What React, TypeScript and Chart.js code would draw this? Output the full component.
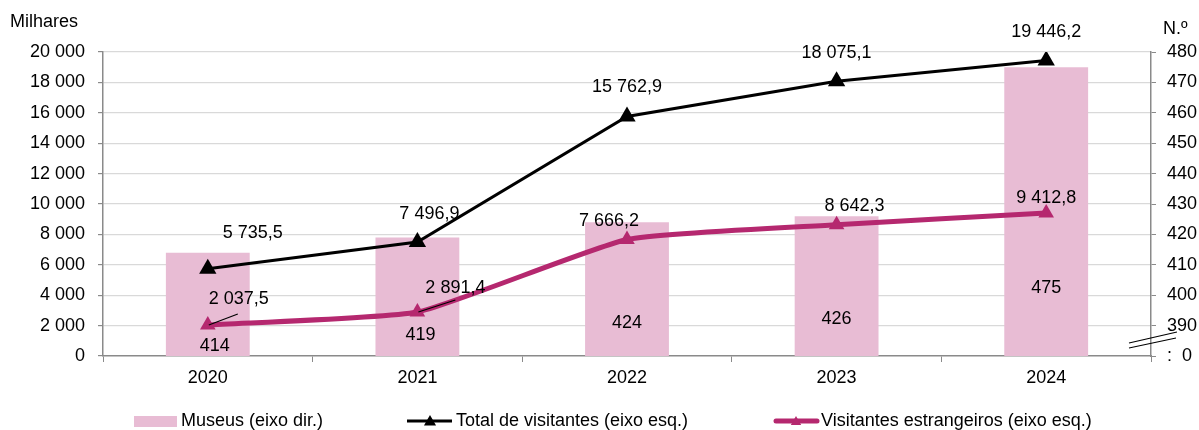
import React, { useEffect, useRef } from 'react';
import { Chart, registerables } from 'chart.js';

Chart.register(...registerables);

// ---- data ----
const years = ['2020', '2021', '2022', '2023', '2024'];
const museus = [414, 419, 424, 426, 475];
const totalVisitantes = [5735.5, 7496.9, 15762.9, 18075.1, 19446.2];
const visitantesEstrangeiros = [2037.5, 2891.4, 7666.2, 8642.3, 9412.8];
const leftAxis = { min: 0, max: 20000, step: 2000 };
const rightAxis = { min: 380, max: 480, step: 10 };

const legendLabels = ['Museus (eixo dir.)', 'Total de visitantes (eixo esq.)', 'Visitantes estrangeiros (eixo esq.)'];

// ---- label placement (pixels, relative to marks) ----
const museuLabelDx = [7, 3, 0, 0, 0];
const museuLabelDy = [-10, -21, -33, -37, -68];
const totalLabelOffsets = [[45, -36], [12, -28], [0, -29], [0, -28], [0, -28]];
const estrLabelOffsets = [[31, -26], [38, -24], [-18, -18], [18, -19], [0, -15]];
const estrLeaders: (number[] | null)[] = [[30, -11], [38, -12], null, null, null];

const FONT = '"Liberation Sans", Arial, Helvetica, sans-serif';
const BAR_COLOR = '#E8BCD4';
const MAGENTA = '#B5286F';
const AXIS_GREY = '#8a8a8a';
const GRID_GREY = '#d9d9d9';

function fmt(v: number, decimals: number) {
  const s = v.toFixed(decimals);
  const [i, d] = s.split('.');
  const g = i.replace(/\B(?=(\d{3})+(?!\d))/g, ' ');
  return d ? g + ',' + d : g;
}

function triangle(ctx: CanvasRenderingContext2D, x: number, y: number, r: number) {
  ctx.beginPath();
  let rad = 0;
  ctx.moveTo(x + Math.sin(rad) * r, y - Math.cos(rad) * r);
  rad += (2 * Math.PI) / 3;
  ctx.lineTo(x + Math.sin(rad) * r, y - Math.cos(rad) * r);
  rad += (2 * Math.PI) / 3;
  ctx.lineTo(x + Math.sin(rad) * r, y - Math.cos(rad) * r);
  ctx.closePath();
  ctx.fill();
}

const labelsPlugin = {
  id: 'dataLabels',
  afterDatasetsDraw(chart: any) {
    const ctx: CanvasRenderingContext2D = chart.ctx;
    const area = chart.chartArea;
    ctx.save();
    ctx.font = `18px ${FONT}`;
    ctx.fillStyle = '#000';
    ctx.textAlign = 'center';
    ctx.textBaseline = 'middle';

    chart.getDatasetMeta(0).data.forEach((el: any, i: number) => {
      ctx.fillText(String(museus[i]), el.x + museuLabelDx[i], area.bottom + museuLabelDy[i]);
    });
    chart.getDatasetMeta(1).data.forEach((el: any, i: number) => {
      const [dx, dy] = totalLabelOffsets[i];
      ctx.fillText(fmt(totalVisitantes[i], 1), el.x + dx, el.y + dy);
    });
    chart.getDatasetMeta(2).data.forEach((el: any, i: number) => {
      const [dx, dy] = estrLabelOffsets[i];
      ctx.fillText(fmt(visitantesEstrangeiros[i], 1), el.x + dx, el.y + dy);
      const ld = estrLeaders[i];
      if (ld) {
        ctx.strokeStyle = '#000';
        ctx.lineWidth = 1.2;
        ctx.beginPath();
        ctx.moveTo(el.x + 1, el.y);
        ctx.lineTo(el.x + ld[0], el.y + ld[1]);
        ctx.stroke();
      }
    });
    ctx.restore();
  },
};

const decorPlugin = {
  id: 'decor',
  afterDraw(chart: any) {
    const ctx: CanvasRenderingContext2D = chart.ctx;
    const area = chart.chartArea;
    ctx.save();
    ctx.font = `18px ${FONT}`;
    ctx.fillStyle = '#000';
    ctx.textBaseline = 'middle';
    ctx.textAlign = 'left';
    // axis titles
    ctx.fillText('Milhares', 10, 22);
    ctx.fillText('N.º', 1163, 29);

    // axis break marks
    ctx.strokeStyle = '#000';
    ctx.lineWidth = 1.2;
    ctx.beginPath();
    ctx.moveTo(area.right - 22, area.bottom - 13);
    ctx.lineTo(area.right + 26, area.bottom - 24);
    ctx.moveTo(area.right - 22, area.bottom - 8);
    ctx.lineTo(area.right + 25, area.bottom - 18);
    ctx.stroke();

    // legend
    const ly = 421;
    ctx.fillStyle = BAR_COLOR;
    ctx.fillRect(134, ly - 5, 43, 11);
    ctx.fillStyle = '#000';
    ctx.fillText(legendLabels[0], 181, ly);

    ctx.strokeStyle = '#000';
    ctx.lineWidth = 3;
    ctx.beginPath();
    ctx.moveTo(407, ly);
    ctx.lineTo(452, ly);
    ctx.stroke();
    ctx.fillStyle = '#000';
    triangle(ctx, 430, ly + 1, 7);
    ctx.fillText(legendLabels[1], 456, ly);

    ctx.strokeStyle = MAGENTA;
    ctx.lineWidth = 5;
    ctx.lineCap = 'round';
    ctx.beginPath();
    ctx.moveTo(776, ly);
    ctx.lineTo(817, ly);
    ctx.stroke();
    ctx.fillStyle = MAGENTA;
    triangle(ctx, 796, ly + 1, 6);
    ctx.fillStyle = '#000';
    ctx.fillText(legendLabels[2], 821, ly);
    ctx.restore();
  },
};

export default function App() {
  const ref = useRef<HTMLCanvasElement>(null);

  useEffect(() => {
    document.body.style.margin = '0';
    const canvas = ref.current;
    if (!canvas) return;
    const chart = new Chart(canvas, {
      type: 'bar',
      data: {
        labels: years,
        datasets: [
          {
            type: 'bar',
            label: legendLabels[0],
            data: museus,
            yAxisID: 'y1',
            backgroundColor: BAR_COLOR,
            borderWidth: 0,
            barPercentage: 0.4,
            categoryPercentage: 1,
            order: 3,
          } as any,
          {
            type: 'line',
            label: legendLabels[1],
            data: totalVisitantes,
            yAxisID: 'y',
            borderColor: '#000',
            backgroundColor: '#000',
            borderWidth: 3,
            pointStyle: 'triangle',
            pointRadius: 10,
            pointBorderWidth: 0,
            tension: 0,
            order: 2,
          } as any,
          {
            type: 'line',
            label: legendLabels[2],
            data: visitantesEstrangeiros,
            yAxisID: 'y',
            borderColor: MAGENTA,
            backgroundColor: MAGENTA,
            borderWidth: 5,
            pointStyle: 'triangle',
            pointRadius: 9,
            pointBorderWidth: 0,
            tension: 0.15,
            order: 1,
          } as any,
        ],
      },
      options: {
        responsive: false,
        animation: false,
        devicePixelRatio: 1,
        layout: { padding: { top: 52, left: 0, right: 0, bottom: 0 } },
        plugins: { legend: { display: false }, tooltip: { enabled: false } },
        scales: {
          x: {
            offset: true,
            grid: {
              offset: true,
              drawOnChartArea: false,
              tickLength: 6,
              color: AXIS_GREY,
            },
            border: { color: AXIS_GREY, width: 1.5 },
            ticks: { font: { family: FONT, size: 18 }, color: '#000', padding: 5 },
            afterFit: (s: any) => {
              s.height = 74;
            },
          },
          y: {
            position: 'left',
            min: leftAxis.min,
            max: leftAxis.max,
            ticks: {
              stepSize: leftAxis.step,
              font: { family: FONT, size: 18 },
              color: '#000',
              padding: 13,
              callback: (v: any) => fmt(Number(v), 0),
            },
            grid: {
              color: (c: any) => (c.tick && c.tick.value === 0 ? 'rgba(0,0,0,0)' : GRID_GREY),
              tickColor: AXIS_GREY,
              tickLength: 5,
              lineWidth: 1.2,
            },
            border: { color: AXIS_GREY, width: 1.5 },
            afterFit: (s: any) => {
              s.width = 103;
            },
          },
          y1: {
            position: 'right',
            min: rightAxis.min,
            max: rightAxis.max,
            ticks: {
              stepSize: rightAxis.step,
              font: { family: FONT, size: 18 },
              color: '#000',
              padding: 11,
              callback: (v: any) => (Number(v) === rightAxis.min ? ':  0' : String(v)),
            },
            grid: {
              drawOnChartArea: false,
              tickLength: 5,
              color: AXIS_GREY,
            },
            border: { color: AXIS_GREY, width: 1.5 },
            afterFit: (s: any) => {
              s.width = 48;
            },
          },
        },
      },
      plugins: [labelsPlugin, decorPlugin],
    });
    return () => chart.destroy();
  }, []);

  return (
    <div style={{ width: 1199, height: 430, position: 'relative', background: '#fff' }}>
      <canvas ref={ref} width={1199} height={430} style={{ display: 'block' }} />
    </div>
  );
}
